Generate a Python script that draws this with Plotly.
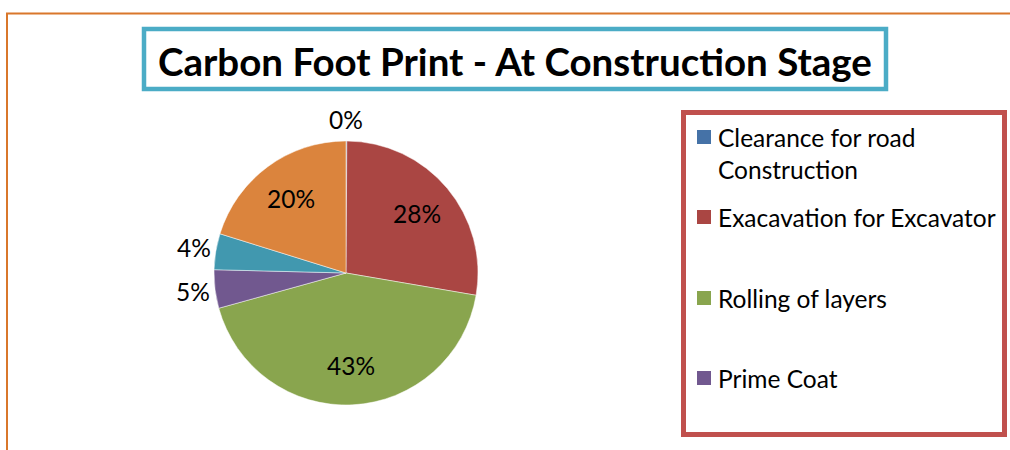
import math
import plotly.graph_objects as go

# Carbon footprint shares by construction activity (percent)
activities = [
    "Clearance for road Construction",
    "Exacavation for Excavator",
    "Rolling of layers",
    "Prime Coat",
    "Laying of layers",
    "Transportation of material",
]
shares = [0.1, 27.6, 43.0, 4.7, 4.4, 20.2]
colors = ["#4572A7", "#AA4643", "#89A54E", "#71588F", "#4198AF", "#DB843D"]
# small slices get their label outside; large ones are labelled inside the wedge
outside = [True, False, False, True, True, False]

# Legend text shown in the side box (first four activities)
legend_text = [
    "Clearance for road<br>Construction",
    "Exacavation for Excavator",
    "Rolling of layers",
    "Prime Coat",
]

W, H = 1010, 450
FONT = "Lato"
LABEL_SIZE = 24.5


def px(x):
    return x / W


def py(y):
    return 1 - y / H


cx, cy, r = 346, 273, 132

fig = go.Figure(
    go.Pie(
        labels=activities,
        values=shares,
        sort=False,
        direction="clockwise",
        rotation=0,
        marker=dict(colors=colors, line=dict(color="rgba(255,255,255,0.6)", width=0.8)),
        textinfo="none",
        showlegend=False,
        hoverinfo="label+percent",
        domain=dict(x=[px(cx - r), px(cx + r)], y=[py(cy + r), py(cy - r)]),
    )
)

shapes = [
    # outer chart frame
    dict(type="line", xref="paper", yref="paper", x0=px(6), x1=px(W), y0=py(13.5), y1=py(13.5),
         line=dict(color="#D9772B", width=2)),
    dict(type="line", xref="paper", yref="paper", x0=px(7), x1=px(7), y0=py(13), y1=py(H),
         line=dict(color="#D9772B", width=2)),
    # title box
    dict(type="rect", xref="paper", yref="paper", x0=px(144), x1=px(886), y0=py(29), y1=py(89),
         line=dict(color="#4BACC6", width=4.5), fillcolor="white"),
    # legend box
    dict(type="rect", xref="paper", yref="paper", x0=px(683.5), x1=px(1004.5), y0=py(112.5), y1=py(434.5),
         line=dict(color="#C0504D", width=5), fillcolor="rgba(0,0,0,0)"),
]

annotations = [
    dict(text="<b>Carbon Foot Print - At Construction Stage</b>", xref="paper", yref="paper",
         x=px(515), y=py(61), xanchor="center", yanchor="middle", showarrow=False,
         font=dict(family=FONT, size=38.5, color="black")),
]

# Percentage labels on each wedge's mid-angle: inside at ~70% of the radius,
# outside just beyond the rim for the thin wedges
total = sum(shares)
start = 0.0
for val, out in zip(shares, outside):
    frac = val / total
    mid = (start + frac / 2) * 2 * math.pi
    start += frac
    dist = r + 22 if out else 0.70 * r
    lx = cx + dist * math.sin(mid)
    ly = cy - dist * math.cos(mid)
    annotations.append(dict(text=f"{round(frac * 100)}%", xref="paper", yref="paper",
                            x=px(lx), y=py(ly), xanchor="center", yanchor="middle",
                            showarrow=False,
                            font=dict(family=FONT, size=LABEL_SIZE, color="black")))

entry_y = [137, 217, 298, 378]
for txt, col, yc in zip(legend_text, colors, entry_y):
    shapes.append(dict(type="rect", xref="paper", yref="paper",
                       x0=px(697), x1=px(711), y0=py(yc - 7), y1=py(yc + 7),
                       line=dict(width=0), fillcolor=col))
    annotations.append(dict(text=txt, xref="paper", yref="paper", x=px(716), y=py(yc - 16),
                            xanchor="left", yanchor="top", align="left", showarrow=False,
                            font=dict(family=FONT, size=24.5, color="black")))

fig.update_layout(
    width=W,
    height=H,
    margin=dict(l=0, r=0, t=0, b=0),
    paper_bgcolor="white",
    plot_bgcolor="white",
    shapes=shapes,
    annotations=annotations,
)

fig.write_html("out.html")
